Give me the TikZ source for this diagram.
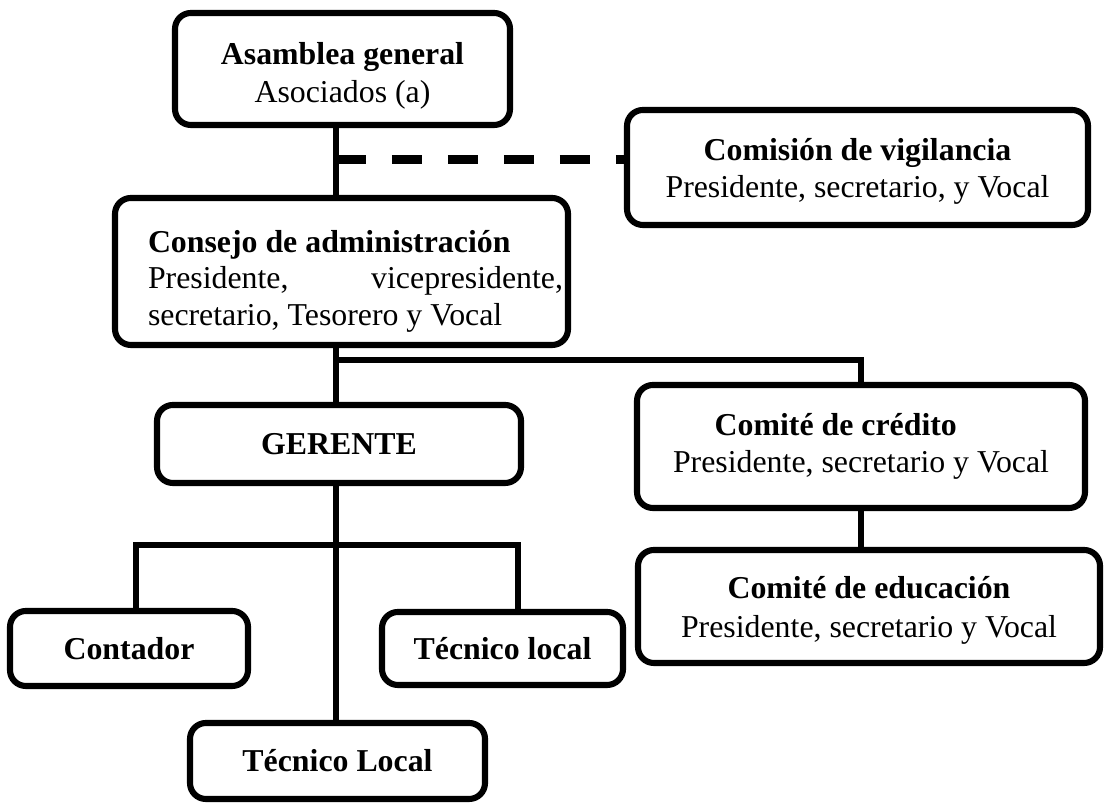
\documentclass[tikz,border=0pt]{standalone}
\usepackage{fontspec}
\setmainfont{Liberation Serif}
\usepackage{tikz}
\usetikzlibrary{calc}
\newlength\pxu
\setlength\pxu{0.377pt}
\tikzset{
  orgbox/.style={draw, line width=2.3pt, rounded corners=6pt, align=center, inner sep=0pt, font=\fontsize{12}{14}\selectfont},
  link/.style={line width=2.6pt},
  dashlink/.style={line width=3.4pt, dash pattern=on 11.3pt off 9.8pt}
}

\begin{document}
\begin{tikzpicture}[x=0.377pt, y=-0.377pt]
  \useasboundingbox (0,0) rectangle (1105,804);

  % upper levels
  \node[orgbox, minimum width=335\pxu, minimum height=112\pxu] (asamblea) at (342.5,69) {\rule{0pt}{13.5pt}\textbf{Asamblea general}\\Asociados (a)};
  \node[orgbox, minimum width=461\pxu, minimum height=115\pxu] (comision) at (857.5,167.5) {\rule{0pt}{11pt}\textbf{Comisión de vigilancia}\\Presidente, secretario, y Vocal};
  \node[orgbox, minimum width=453\pxu, minimum height=147\pxu, align=flush left, text width=443\pxu, font=\fontsize{12}{13.8}\selectfont] (consejo) at (341.5,271.5)
    {\hspace*{28\pxu}\rule{0pt}{15.5pt}\textbf{Consejo de administración}\\\hspace*{28\pxu}Presidente,\hfill vicepresidente,\\\hspace*{28\pxu}secretario, Tesorero y Vocal};

  % committees
  \node[orgbox, minimum width=448\pxu, minimum height=123\pxu] (credito) at (861,446.5) {\textbf{Comité de crédito}\hspace*{19pt}\\Presidente, secretario y Vocal};
  \node[orgbox, minimum width=462\pxu, minimum height=113\pxu, font=\fontsize{12}{15}\selectfont] (educacion) at (869,606.5) {\rule{0pt}{11.2pt}\textbf{Comité de educación}\\Presidente, secretario y Vocal};

  % management
  \node[orgbox, minimum width=364\pxu, minimum height=78\pxu] (gerente) at (339,444) {\textbf{GERENTE}};
  \node[orgbox, minimum width=238\pxu, minimum height=75\pxu] (contador) at (129,648.5) {\textbf{Contador}};
  \node[orgbox, minimum width=241\pxu, minimum height=73\pxu] (tecnico) at (502.5,648.5) {\textbf{Técnico local}};
  \node[orgbox, minimum width=295\pxu, minimum height=76\pxu] (tecLocal) at (337.5,761) {\textbf{Técnico Local}};

  % connectors
  \coordinate (trunk) at (336,160);
  \coordinate (split) at (336,360);
  \coordinate (barL) at (136,545);
  \coordinate (barR) at (518,545);
  \draw[link] (asamblea.south -| trunk) -- (consejo.north -| trunk);
  \draw[dashlink] (trunk) -- (trunk -| comision.west);
  \draw[link] (consejo.south -| trunk) -- (gerente.north -| trunk);
  \draw[link] (split) -| (credito.north);
  \draw[link] (credito.south) -- (educacion.north -| credito.south);
  \draw[link] (gerente.south -| trunk) -- (tecLocal.north -| trunk);
  \draw[link] (contador.north -| barL) -- (barL) -- (barR) -- (barR |- tecnico.north);
\end{tikzpicture}
\end{document}
